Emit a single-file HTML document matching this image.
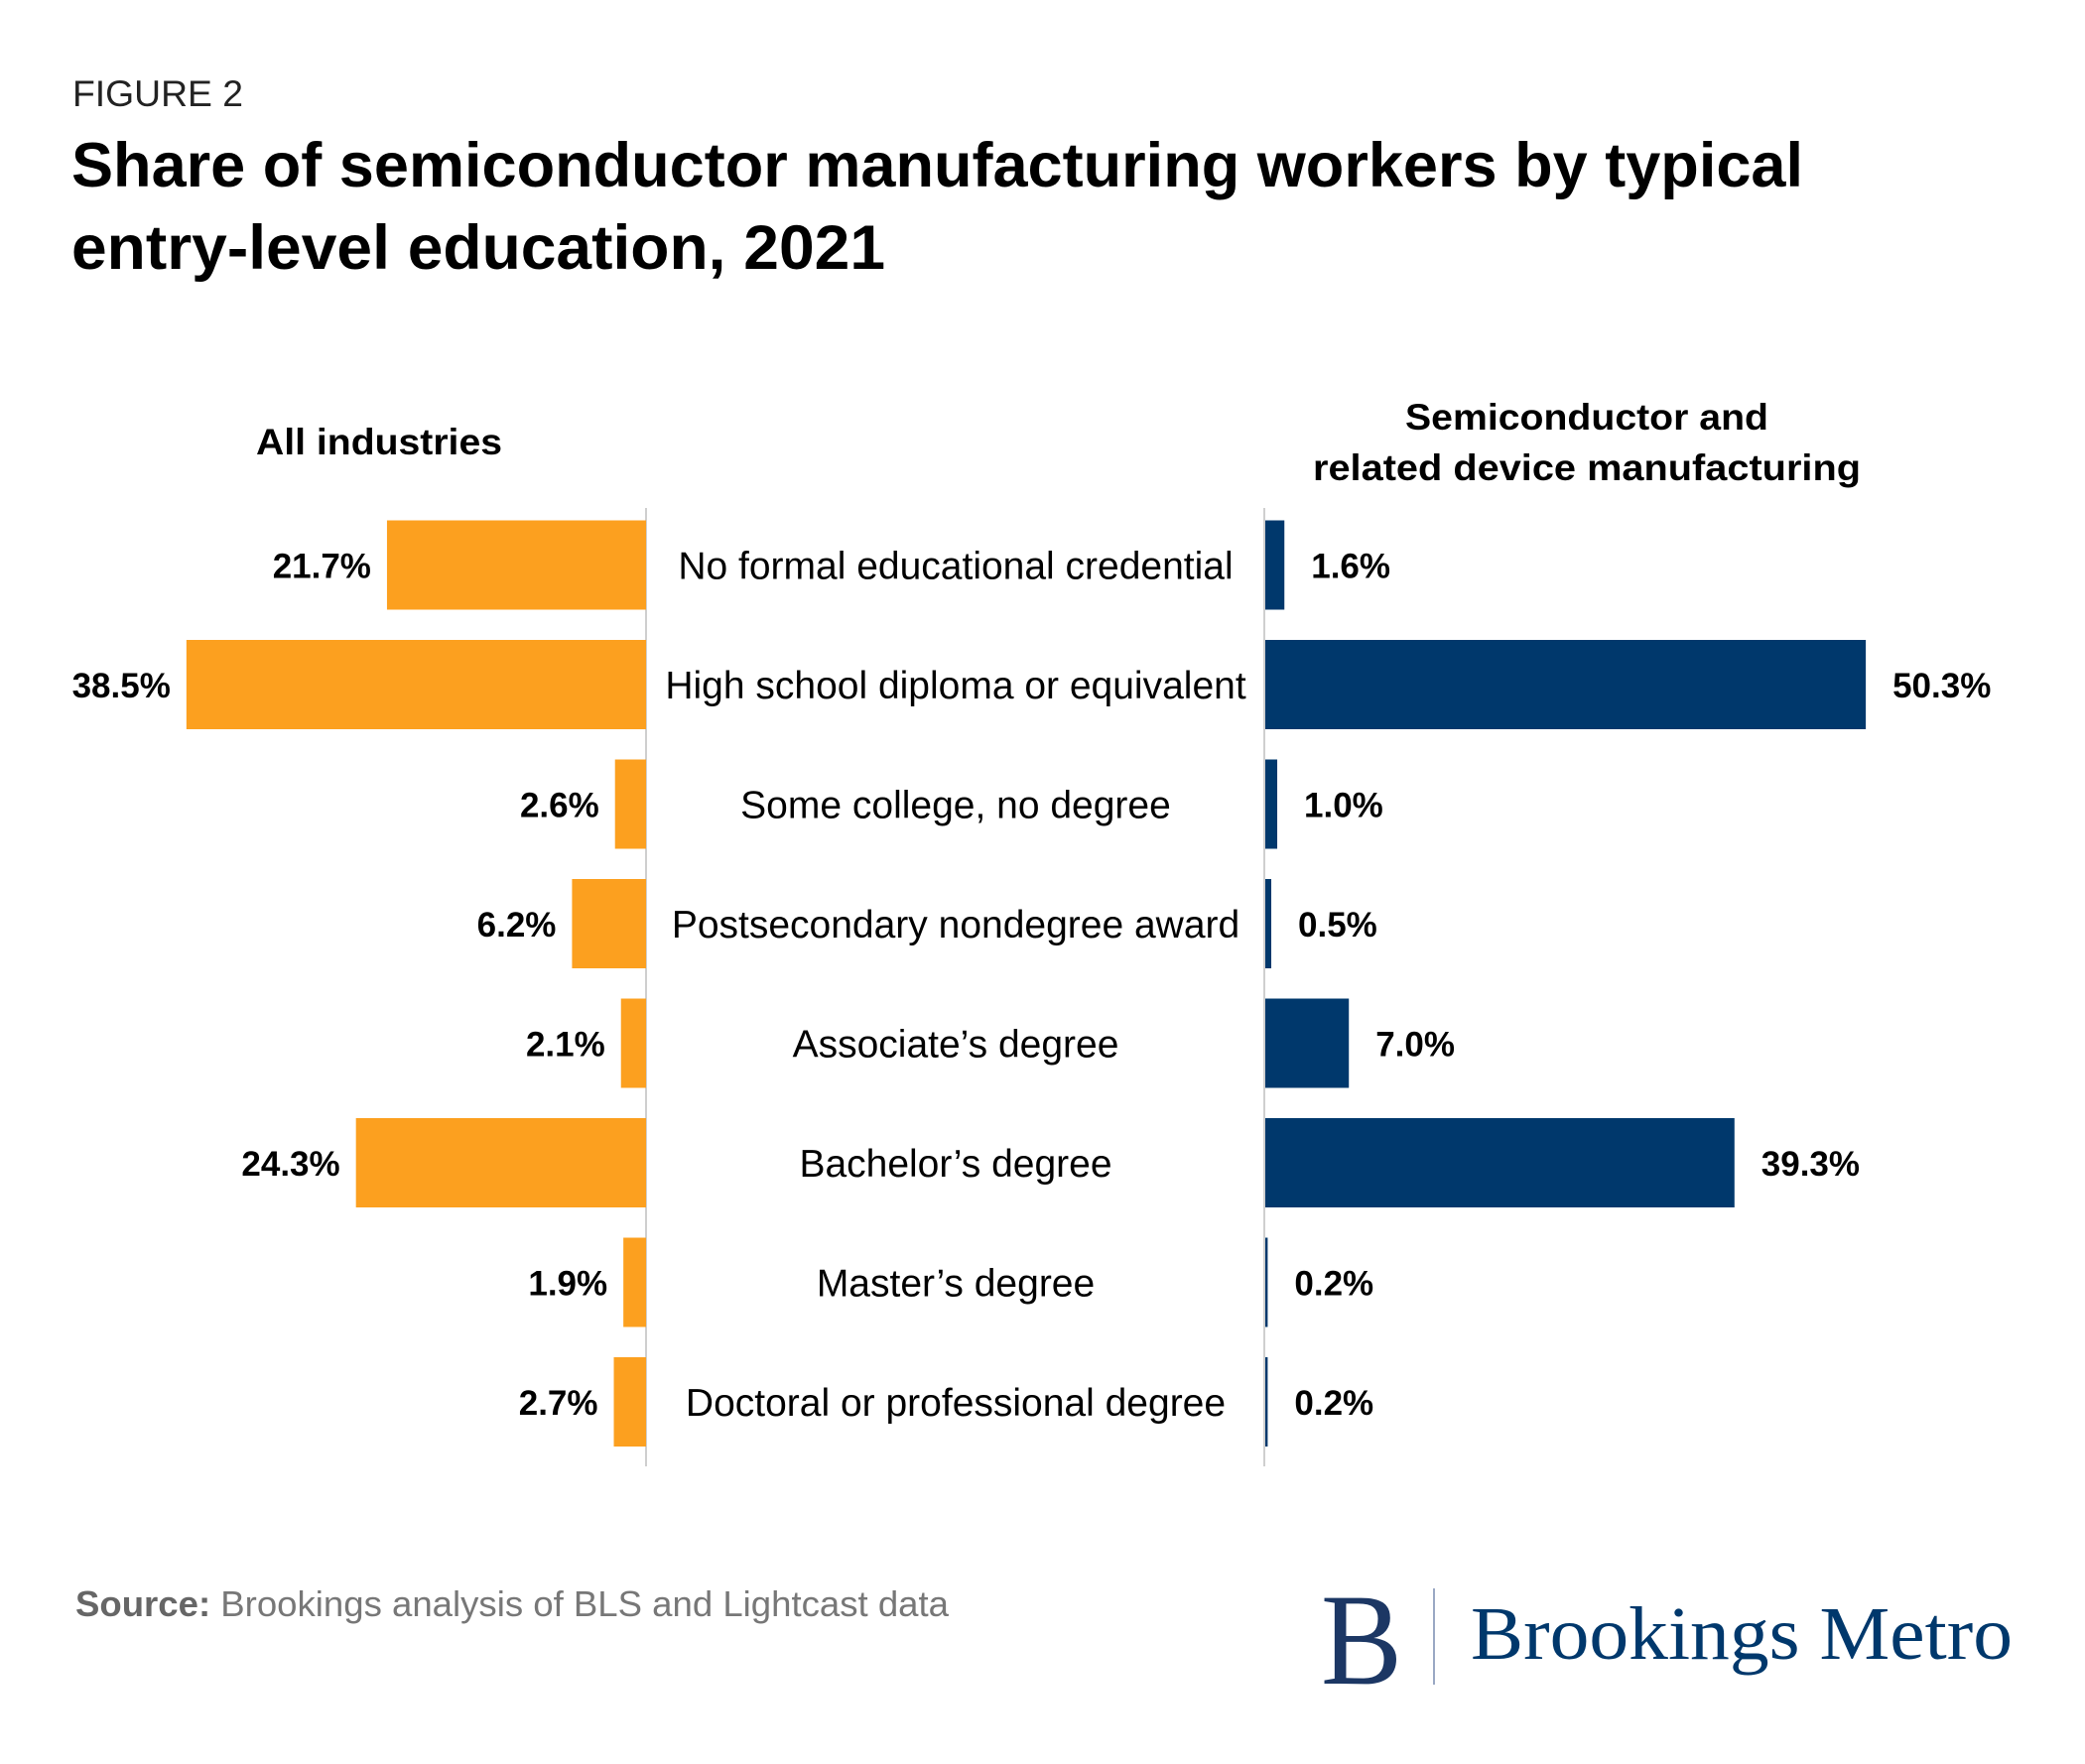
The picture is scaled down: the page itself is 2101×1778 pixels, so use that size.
<!DOCTYPE html>
<html><head><meta charset="utf-8"><style>
html,body{margin:0;padding:0;background:#fff;}
svg{display:block;}
</style></head><body>
<svg id="chart" width="2101" height="1778" viewBox="0 0 2101 1778" xmlns="http://www.w3.org/2000/svg" font-family="'Liberation Sans', sans-serif">
<text x="73" y="107" font-size="37" fill="#222" textLength="172" lengthAdjust="spacingAndGlyphs">FIGURE 2</text>
<text x="72" y="188" font-size="63" font-weight="bold" fill="#000" textLength="1745" lengthAdjust="spacingAndGlyphs">Share of semiconductor manufacturing workers by typical</text>
<text x="72" y="271" font-size="63" font-weight="bold" fill="#000" textLength="820" lengthAdjust="spacingAndGlyphs">entry-level education, 2021</text>
<text x="382" y="458" font-size="37" font-weight="bold" text-anchor="middle" fill="#000" textLength="248" lengthAdjust="spacingAndGlyphs">All industries</text>
<text x="1599" y="433" font-size="37" font-weight="bold" text-anchor="middle" fill="#000" textLength="366" lengthAdjust="spacingAndGlyphs">Semiconductor and</text>
<text x="1599" y="484" font-size="37" font-weight="bold" text-anchor="middle" fill="#000" textLength="552" lengthAdjust="spacingAndGlyphs">related device manufacturing</text>
<line x1="651" y1="512" x2="651" y2="1478" stroke="#cfcfcf" stroke-width="2"/>
<line x1="1274" y1="512" x2="1274" y2="1478" stroke="#cfcfcf" stroke-width="2"/>
<g id="bars"></g>
<text x="76" y="1629" font-size="36" fill="#777" textLength="880" lengthAdjust="spacingAndGlyphs"><tspan font-weight="bold" fill="#666">Source:</tspan> Brookings analysis of BLS and Lightcast data</text>
<text x="1331" y="1697" font-size="132" font-family="'Liberation Serif', serif" fill="#1c3764" textLength="82" lengthAdjust="spacingAndGlyphs">B</text>
<line x1="1445" y1="1601" x2="1445" y2="1698" stroke="#9aa8c4" stroke-width="2"/>
<text x="1482" y="1672" font-size="76" font-family="'Liberation Serif', serif" fill="#00386c" textLength="546" lengthAdjust="spacingAndGlyphs">Brookings Metro</text>
</svg>
<script>
const categories = ["No formal educational credential","High school diploma or equivalent","Some college, no degree","Postsecondary nondegree award","Associate’s degree","Bachelor’s degree","Master’s degree","Doctoral or professional degree"];
const allIndustries = [21.7, 38.5, 2.6, 6.2, 2.1, 24.3, 1.9, 2.7];
const semiconductor = [1.6, 50.3, 1.0, 0.5, 7.0, 39.3, 0.2, 0.2];
const valueLabelsLeft = ["21.7%","38.5%","2.6%","6.2%","2.1%","24.3%","1.9%","2.7%"];
const valueLabelsRight = ["1.6%","50.3%","1.0%","0.5%","7.0%","39.3%","0.2%","0.2%"];

const NS = "http://www.w3.org/2000/svg";
const g = document.getElementById('bars');
const leftZero = 651, rightZero = 1275;
const xLeft = v => leftZero - v * 12.03;
const xRight = v => rightZero + v * 12.03;
const yBand = i => 524.5 + i * 120.5;
const bandH = 90;
function mk(tag, attrs){ const e=document.createElementNS(NS,tag); for(const k in attrs) e.setAttribute(k,attrs[k]); return e; }

categories.forEach((c,i)=>{
  const y = yBand(i), cy = y + bandH/2;
  const xl = xLeft(allIndustries[i]);
  const r1 = mk('rect',{x:xl,y:y,width:leftZero-xl,height:bandH,fill:'#fca01f'});
  
  
  g.appendChild(r1);
  const t1 = mk('text',{x:xl-16,y:cy+13,'font-size':35,'font-weight':'bold','text-anchor':'end',fill:'#000'});
  t1.textContent = valueLabelsLeft[i];
  
  
  g.appendChild(t1);
  const xr = xRight(semiconductor[i]);
  const r2 = mk('rect',{x:rightZero,y:y,width:Math.max(xr-rightZero,2),height:bandH,fill:'#00386c'});
  
  
  g.appendChild(r2);
  const t2 = mk('text',{x:Math.max(xr,rightZero+2)+27,y:cy+13,'font-size':35,'font-weight':'bold',fill:'#000'});
  t2.textContent = valueLabelsRight[i];
  
  
  g.appendChild(t2);
  const t3 = mk('text',{x:963,y:cy+14,'font-size':39,'text-anchor':'middle',fill:'#000'});
  t3.textContent = c;
  
  
  g.appendChild(t3);
});
</script>
</body></html>
